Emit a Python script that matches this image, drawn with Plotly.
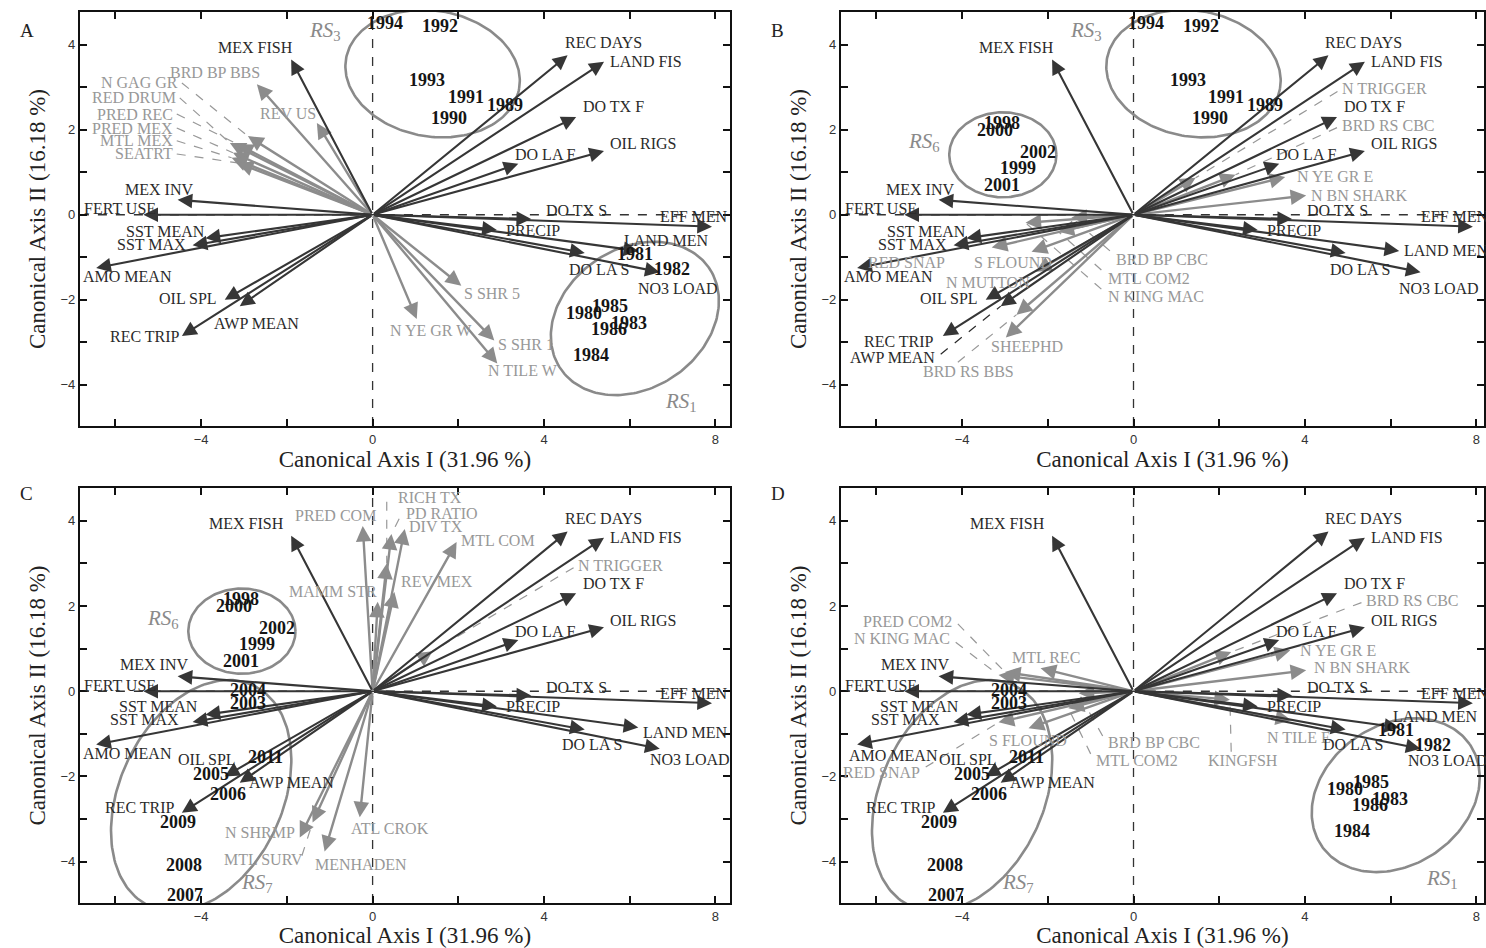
import numpy as np
import plotly.graph_objects as go

# ---------------- data ----------------
ENV_NAMES = ["MEX FISH", "MEX INV", "FERT USE", "SST MEAN", "SST MAX", "AMO MEAN", "OIL SPL", "AWP MEAN",
             "REC TRIP", "REC DAYS", "LAND FIS", "DO TX F", "OIL RIGS", "DO LA F", "DO TX S", "EFF MEN",
             "PRECIP", "LAND MEN", "DO LA S", "NO3 LOAD"]
ENV_X = [-1.9, -4.55, -5.35, -3.9, -4.2, -6.45, -3.45, -3.1, -4.45, 4.55, 5.4, 4.75, 5.4, 3.4, 3.7, 7.92,
         2.9, 6.2, 4.95, 6.7]
ENV_Y = [3.65, 0.35, 0.0, -0.55, -0.72, -1.25, -2.0, -2.15, -2.85, 3.75, 3.6, 2.3, 1.5, 1.2, -0.1, -0.28,
         -0.36, -0.85, -0.9, -1.35]

SP_A_NAMES = ["BRD BP BBS", "REV US", "N GAG GR", "RED DRUM", "PRED REC", "PRED MEX", "MTL MEX", "SEATRT",
              "S SHR 5", "N YE GR W", "S SHR 1", "N TILE W"]
SP_A_X = [-2.7, -1.3, -2.91, -3.33, -3.15, -3.26, -3.29, -3.15, 2.07, 1.03, 2.84, 2.91]
SP_A_Y = [3.07, 2.16, 1.85, 1.69, 1.66, 1.46, 1.34, 1.22, -1.67, -2.45, -2.96, -3.5]

SP_B_NAMES = ["N TRIGGER", "BRD RS CBC", "N YE GR E", "N BN SHARK", "BRD BP CBC", "MTL COM2", "N KING MAC",
              "RED SNAP", "S FLOUND", "N MUTTON", "SHEEPHD", "BRD RS BBS"]
SP_B_X = [1.45, 2.38, 3.54, 4.03, -1.45, -1.75, -2.52, -3.31, -2.38, -2.28, -2.98, -2.73]
SP_B_Y = [0.87, 0.94, 0.89, 0.45, -0.07, -0.4, -0.19, -0.77, -0.87, -1.34, -2.89, -2.35]

SP_C_NAMES = ["PRED COM", "RICH TX", "PD RATIO", "DIV TX", "MTL COM", "REV MEX", "MAMM STR", "N TRIGGER",
              "ATL CROK", "MENHADEN", "N SHRMP", "MTL SURV"]
SP_C_X = [-0.23, 0.33, 0.44, 0.75, 1.96, 0.51, 0.12, 1.4, -0.3, -1.12, -1.7, -1.4]
SP_C_Y = [3.88, 3.0, 3.69, 3.81, 3.5, 2.33, 2.1, 0.94, -2.96, -3.76, -3.43, -3.08]

SP_D_NAMES = ["BRD RS CBC", "N YE GR E", "N BN SHARK", "KINGFSH", "N TILE E", "MTL REC", "PRED COM2",
              "N KING MAC", "RED SNAP", "S FLOUND", "BRD BP CBC", "MTL COM2"]
SP_D_X = [2.28, 3.66, 4.03, 2.25, 3.68, -2.17, -3.0, -3.15, -3.15, -2.45, -1.28, -1.52]
SP_D_Y = [0.92, 0.96, 0.49, -0.2, -0.68, 0.54, 0.45, 0.38, -0.73, -0.87, -0.05, -0.4]

YEAR_LABELS = ["1980", "1981", "1982", "1983", "1984", "1985", "1986",
               "1989", "1990", "1991", "1992", "1993", "1994",
               "1998", "1999", "2000", "2001", "2002",
               "2003", "2004", "2005", "2006", "2007", "2008", "2009", "2011"]
YEAR_X = [4.94, 6.13, 6.99, 5.99, 5.1, 5.55, 5.52,
          3.08, 1.79, 2.17, 1.58, 1.28, 0.28,
          -3.08, -2.7, -3.24, -3.08, -2.24,
          -2.9, -2.9, -3.78, -3.38, -4.38, -4.41, -4.55, -2.5]
YEAR_Y = [-2.3, -0.92, -1.27, -2.54, -3.29, -2.14, -2.68,
          2.58, 2.28, 2.77, 4.44, 3.17, 4.5,
          2.16, 1.1, 2.0, 0.7, 1.48,
          -0.28, 0.02, -1.95, -2.42, -4.78, -4.07, -3.06, -1.55]

RS_NAMES = ["1", "3", "6", "7"]
RS_CX = [6.12, 1.40, -3.05, -4.0]
RS_CY = [-2.44, 3.32, 1.41, -2.45]
RS_A = [2.1, 2.05, 1.25, 2.86]
RS_B = [1.64, 1.48, 1.0, 1.9]
RS_ANGLE = [35, -10, 0, 65]
RS_LABEL_X = [7.2, -1.1, -4.88, -2.7]
RS_LABEL_Y = [-4.4, 4.32, 1.7, -4.5]

PANEL_YEARS = {
    "A": ["1989", "1990", "1991", "1992", "1993", "1994", "1980", "1981", "1982", "1983", "1984", "1985", "1986"],
    "B": ["1989", "1990", "1991", "1992", "1993", "1994", "1998", "1999", "2000", "2001", "2002"],
    "C": ["1998", "1999", "2000", "2001", "2002", "2003", "2004", "2005", "2006", "2007", "2008", "2009", "2011"],
    "D": ["2003", "2004", "2005", "2006", "2007", "2008", "2009", "2011", "1980", "1981", "1982", "1983", "1984",
          "1985", "1986"],
}
PANEL_RS = {"A": ["3", "1"], "B": ["3", "6"], "C": ["6", "7"], "D": ["7", "1"]}
PANEL_SP = {"A": (SP_A_NAMES, SP_A_X, SP_A_Y), "B": (SP_B_NAMES, SP_B_X, SP_B_Y),
            "C": (SP_C_NAMES, SP_C_X, SP_C_Y), "D": (SP_D_NAMES, SP_D_X, SP_D_Y)}

X_TITLE = "Canonical Axis I (31.96 %)"
Y_TITLE = "Canonical Axis II (16.18 %)"

# ---------------- label placement (style) ----------------
ENV_LABEL = {
    "MEX FISH": (4, 12, "right"), "MEX INV": (17, 10, "right"), "FERT USE": (15, 6, "right"),
    "SST MEAN": (2, 7, "right"), "SST MAX": (-5, 1, "right"), "AMO MEAN": (-15, -9, "left"),
    "OIL SPL": (-6, 1, "right"), "AWP MEAN": (-28, -17, "left"), "REC TRIP": (0, -1, "right"),
    "REC DAYS": (-5, 13, "left"), "LAND FIS": (4, 0, "left"), "DO TX F": (5, 10, "left"),
    "OIL RIGS": (4, 7, "left"), "DO LA F": (27, 9, "center"), "DO TX S": (13, 8, "left"),
    "EFF MEN": (18, 10, "right"), "PRECIP": (7, 0, "left"), "LAND MEN": (-16, 10, "left"),
    "DO LA S": (-18, -16, "left"), "NO3 LOAD": (-24, -16, "left"),
}
CD_ENV = {"OIL SPL": (13, 17, "right"), "AWP MEAN": (7, 0, "left"), "REC TRIP": (-5, 5, "right"),
          "SST MEAN": (-5, 8, "right"), "SST MAX": (-12, 2, "right"), "MEX INV": (12, 12, "right"),
          "MEX FISH": (-5, 12, "right"), "DO LA S": (-25, -15, "left")}
ENV_OVERRIDE = {
    "A": {},
    "B": {"LAND MEN": (3, 0, "left"), "REC TRIP": (-7, -6, "right")},
    "C": dict(CD_ENV, **{"LAND MEN": (3, -5, "left"), "NO3 LOAD": (-12, -11, "left")}),
    "D": dict(CD_ENV, **{"LAND MEN": (-8, 11, "left"), "NO3 LOAD": (-15, -12, "left"),
                         "AMO MEAN": (-10, -11, "left")}),
}
# labels connected with a dashed leader: (label x, label y, anchor, leader start x, leader start y)
ENV_LEADER = {"B": {"AWP MEAN": (-4.55, -3.36, "right", -4.5, -3.28)}}

SP_OFFSET = {
    "A": {"BRD BP BBS": (5, 12, "right"), "REV US": (1, 9, "right"), "S SHR 5": (1, -8, "left"),
          "N YE GR W": (-29, -12, "left"), "S SHR 1": (2, -4, "left"), "N TILE W": (-11, -7, "left")},
    "B": {"N YE GR E": (10, 0, "left"), "N BN SHARK": (3, 0, "left"), "RED SNAP": (-45, -15, "right"),
          "S FLOUND": (-60, -11, "left"), "N MUTTON": (-92, -11, "left"), "SHEEPHD": (-17, -9, "left")},
    "C": {"PRED COM": (15, 10, "right"), "DIV TX": (2, 2, "left"), "MTL COM": (2, 2, "left"),
          "REV MEX": (5, 10, "left"), "MAMM STR": (1, 10, "right"), "ATL CROK": (-11, -11, "left"),
          "MENHADEN": (-12, -13, "left"), "N SHRMP": (-3, 5, "right")},
    "D": {"N YE GR E": (8, 0, "left"), "N BN SHARK": (6, 3, "left"), "N TILE E": (-26, -17, "left"),
          "MTL REC": (-31, 11, "left"), "S FLOUND": (-42, -12, "left")},
}
SP_LEADER = {
    "A": {"N GAG GR": (-4.45, 3.1, "right", -4.45, 3.1), "RED DRUM": (-4.5, 2.75, "right", -4.5, 2.75),
          "PRED REC": (-4.57, 2.37, "right", -4.57, 2.37), "PRED MEX": (-4.57, 2.04, "right", -4.57, 2.04),
          "MTL MEX": (-4.57, 1.74, "right", -4.57, 1.74), "SEATRT": (-4.57, 1.43, "right", -4.57, 1.43)},
    "B": {"N TRIGGER": (4.78, 2.96, "left", 4.76, 2.9), "BRD RS CBC": (4.77, 2.11, "left", 4.75, 2.05),
          "BRD RS BBS": (-3.85, -3.69, "center", -4.1, -3.47), "BRD BP CBC": (-0.51, -1.06, "left", -0.55, -0.85),
          "MTL COM2": (-0.7, -1.5, "left", -0.75, -1.3), "N KING MAC": (-0.7, -1.92, "left", -0.75, -1.75)},
    "C": {"RICH TX": (0.51, 4.54, "left", 0.33, 4.45), "PD RATIO": (0.68, 4.16, "left", 0.62, 4.05),
          "N TRIGGER": (4.71, 2.96, "left", 4.69, 2.9), "MTL SURV": (-1.54, -3.95, "right", -1.65, -3.86)},
    "D": {"BRD RS CBC": (5.34, 2.14, "left", 5.32, 2.08), "KINGFSH": (2.56, -1.62, "center", 2.28, -1.42),
          "PRED COM2": (-4.15, 1.64, "right", -4.1, 1.58), "N KING MAC": (-4.2, 1.24, "right", -4.15, 1.15),
          "RED SNAP": (-4.9, -1.9, "right", -4.85, -1.78), "BRD BP CBC": (-0.7, -1.2, "left", -0.72, -1.05),
          "MTL COM2": (-0.98, -1.62, "left", -1.0, -1.47)},
}

# ---------------- geometry / style ----------------
W, H = 1486, 948
XR_LEFT = [-6.83, 8.34]
XR_RIGHT = [-6.83, 8.18]
YR = [-4.97, 4.77]
XDOM_L = [80 / W, 731 / W]
XDOM_R = [842 / W, 1.0]
YDOM_T = [1 - 426 / H, 1 - 12 / H]
YDOM_B = [1 - 903 / H, 1 - 488 / H]
PANELS = {"A": ("", XDOM_L, YDOM_T, XR_LEFT), "B": ("2", XDOM_R, YDOM_T, XR_RIGHT),
          "C": ("3", XDOM_L, YDOM_B, XR_LEFT), "D": ("4", XDOM_R, YDOM_B, XR_RIGHT)}

ENV_COL = "#363636"
SP_COL = "#8c8c8c"
ENV_TXT = "#2a2a2a"
SP_TXT = "#989898"
SERIF = "Liberation Serif"
LBL = 16

fig = go.Figure()
annotations = []
shapes = []

for pname, (suf, xdom, ydom, xr) in PANELS.items():
    xref, yref = "x" + suf, "y" + suf
    # dashed zero lines
    shapes.append(dict(type="line", xref=xref, yref=yref, x0=0, x1=0, y0=YR[0], y1=YR[1],
                       line=dict(color="#333", width=1.3, dash="dash"), layer="below"))
    shapes.append(dict(type="line", xref=xref, yref=yref, x0=xr[0], x1=xr[1], y0=0, y1=0,
                       line=dict(color="#333", width=1.3, dash="dash"), layer="below"))
    # ellipses
    for rs in PANEL_RS[pname]:
        i = RS_NAMES.index(rs)
        t = np.linspace(0, 2 * np.pi, 200)
        th = np.deg2rad(RS_ANGLE[i])
        ex = RS_CX[i] + RS_A[i] * np.cos(t) * np.cos(th) - RS_B[i] * np.sin(t) * np.sin(th)
        ey = RS_CY[i] + RS_A[i] * np.cos(t) * np.sin(th) + RS_B[i] * np.sin(t) * np.cos(th)
        fig.add_trace(go.Scatter(x=ex, y=ey, mode="lines", xaxis=xref, yaxis=yref, hoverinfo="skip",
                                 line=dict(color="#8a8a8a", width=2.6), showlegend=False))
        annotations.append(dict(x=RS_LABEL_X[i], y=RS_LABEL_Y[i], xref=xref, yref=yref, showarrow=False,
                                text="<i>RS</i><sub>%s</sub>" % rs,
                                font=dict(family=SERIF, size=21, color="#8a8a8a")))
    # species arrows
    names, sx, sy = PANEL_SP[pname]
    for n, vx, vy in zip(names, sx, sy):
        annotations.append(dict(x=vx, y=vy, ax=0, ay=0, xref=xref, yref=yref, axref=xref, ayref=yref,
                                text="", showarrow=True, arrowhead=2, arrowsize=1.3, arrowwidth=2.4,
                                arrowcolor=SP_COL))
    # env arrows
    for n, vx, vy in zip(ENV_NAMES, ENV_X, ENV_Y):
        annotations.append(dict(x=vx, y=vy, ax=0, ay=0, xref=xref, yref=yref, axref=xref, ayref=yref,
                                text="", showarrow=True, arrowhead=2, arrowsize=1.4, arrowwidth=2.1,
                                arrowcolor=ENV_COL))

    def put_label(n, vx, vy, offs, leaders, color):
        if n in leaders:
            lx, ly, anc, stx, sty = leaders[n]
            shapes.append(dict(type="line", xref=xref, yref=yref, x0=stx, y0=sty, x1=vx, y1=vy,
                               line=dict(color=color, width=1.2, dash="dash")))
            annotations.append(dict(x=lx, y=ly, xref=xref, yref=yref, showarrow=False, text=n,
                                    xanchor=anc, yanchor="middle",
                                    xshift=(-2 if anc == "right" else (2 if anc == "left" else 0)),
                                    font=dict(family=SERIF, size=LBL, color=color)))
        else:
            dx, dy, anc = offs.get(n, (4, 0, "left"))
            annotations.append(dict(x=vx, y=vy, xref=xref, yref=yref, showarrow=False, text=n,
                                    xanchor=anc, yanchor="middle", xshift=dx, yshift=dy,
                                    font=dict(family=SERIF, size=LBL, color=color)))

    for n, vx, vy in zip(names, sx, sy):
        put_label(n, vx, vy, SP_OFFSET.get(pname, {}), SP_LEADER.get(pname, {}), SP_TXT)
    env_off = dict(ENV_LABEL, **ENV_OVERRIDE[pname])
    for n, vx, vy in zip(ENV_NAMES, ENV_X, ENV_Y):
        put_label(n, vx, vy, env_off, ENV_LEADER.get(pname, {}), ENV_TXT)

    # years
    for yl in PANEL_YEARS[pname]:
        i = YEAR_LABELS.index(yl)
        annotations.append(dict(x=YEAR_X[i], y=YEAR_Y[i], xref=xref, yref=yref, showarrow=False,
                                text="<b>%s</b>" % yl,
                                font=dict(family=SERIF, size=18, color="#151515")))

# panel letters
for letter, (px, py) in {"A": (18, 18), "B": (779, 18), "C": (18, 494), "D": (779, 494)}.items():
    annotations.append(dict(x=px / W, y=1 - py / H, xref="paper", yref="paper", showarrow=False,
                            text=letter, font=dict(family=SERIF, size=19, color="#222")))

def xaxis(dom, rng, anchor):
    return dict(domain=dom, range=rng, anchor=anchor, showline=True, linewidth=2, linecolor="#111",
                mirror="ticks", ticks="inside", ticklen=7, tickwidth=2, tickcolor="#111",
                dtick=4, tick0=0, showgrid=False, zeroline=False, fixedrange=True,
                minor=dict(ticks="inside", ticklen=7, tickwidth=2, tickcolor="#111", dtick=2, tick0=0,
                           showgrid=False),
                tickfont=dict(family="Liberation Sans", size=13, color="#333"),
                title=dict(text=X_TITLE, standoff=3, font=dict(family=SERIF, size=23, color="#222")))

def yaxis(dom, rng, anchor):
    return dict(domain=dom, range=rng, anchor=anchor, showline=True, linewidth=2, linecolor="#111",
                mirror="ticks", ticks="inside", ticklen=7, tickwidth=2, tickcolor="#111",
                dtick=2, tick0=0, showgrid=False, zeroline=False, fixedrange=True,
                minor=dict(ticks="inside", ticklen=7, tickwidth=2, tickcolor="#111", dtick=1, tick0=0,
                           showgrid=False),
                tickfont=dict(family="Liberation Sans", size=13, color="#333"),
                title=dict(text=Y_TITLE, standoff=8, font=dict(family=SERIF, size=23, color="#222")))

layout = dict(width=W, height=H, margin=dict(l=0, r=0, t=0, b=0), plot_bgcolor="white",
              paper_bgcolor="white", showlegend=False, annotations=annotations, shapes=shapes)
for pname, (suf, xdom, ydom, xr) in PANELS.items():
    layout["xaxis" + suf] = xaxis(xdom, xr, "y" + suf)
    layout["yaxis" + suf] = yaxis(ydom, YR, "x" + suf)

fig.update_layout(**layout)
fig.write_html("out.html")
